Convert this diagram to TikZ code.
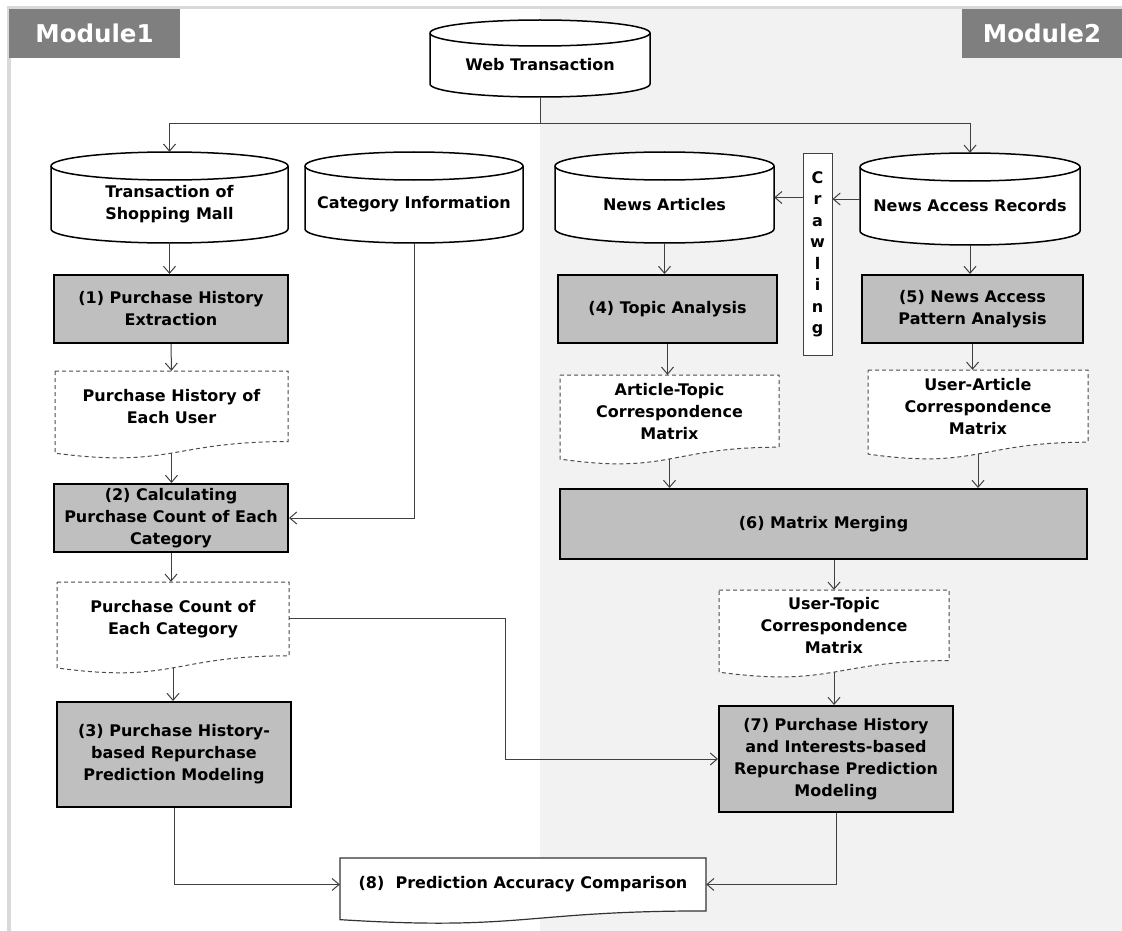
\documentclass[tikz,border=0pt]{standalone}
\usepackage{fontspec}
\setmainfont{DejaVu Sans}
\usetikzlibrary{arrows.meta,calc}
\pgfdeclarelayer{bg}
\pgfdeclarelayer{shp}
\pgfsetlayers{bg,shp,main}
\definecolor{rightbg}{HTML}{F2F2F2}
\definecolor{framegray}{HTML}{D9D9D9}
\definecolor{modgray}{HTML}{7F7F7F}
\definecolor{procgray}{HTML}{BFBFBF}
\definecolor{linegray}{HTML}{404040}
\tikzset{
  txt/.style={font=\bfseries\fontsize{16}{22}\selectfont, align=center, text=black, inner sep=0pt},
  proc/.style={txt, draw=black, line width=2pt, fill=procgray},
  db/.style={inner sep=0pt},
  dbtext/.style={txt},
  dashdoc/.style={draw=black!70, line width=1pt, dash pattern=on 4pt off 3pt},
  soliddoc/.style={draw=black!80, line width=1.2pt},
  crawlbox/.style={txt, font=\bfseries\fontsize{16}{21.5}\selectfont, draw=linegray, line width=1pt, fill=white},
  conn/.style={draw=linegray, line width=1pt, -{Straight Barb[length=7pt,width=12pt]}},
  plain/.style={draw=linegray, line width=1pt},
  modlabel/.style={fill=modgray, text=white, font=\bfseries\fontsize{24.5}{30}\selectfont, inner sep=0pt},
}
% node by corners
\newcommand\boxat[7]{%
  \pgfmathsetmacro\bw{#5-#3}\pgfmathsetmacro\bhh{#6-#4}%
  \pgfmathsetmacro\bx{(#3+#5)/2}\pgfmathsetmacro\by{(#4+#6)/2}%
  \node[#1, minimum width=\bw pt, minimum height=\bhh pt] (#2) at (\bx,\by) {#7};}
% cylinder: name x1 y1 x2 y2 ry text
\newcommand\cylat[7]{%
  \boxat{db}{#1}{#2}{#3}{#4}{#5}{}%
  \pgfmathsetmacro\rx{(#4-#2)/2}%
  \pgfmathsetmacro\cy{(#3+#5)/2+#6/2}%
  \pgfmathsetmacro\cx{(#2+#4)/2}%
  \begin{pgfonlayer}{shp}
  \path[draw=black, line width=1.5pt, fill=white] (#2,#3+#6) -- (#2,#5-#6)
     arc[start angle=180,end angle=360,x radius=\rx pt,y radius=#6pt] -- (#4,#3+#6)
     arc[start angle=0,end angle=180,x radius=\rx pt,y radius=#6pt] -- cycle;
  \draw[line width=1.5pt] (#2,#3+#6) arc[start angle=180,end angle=360,x radius=\rx pt,y radius=#6pt];
  \end{pgfonlayer}
  \node[dbtext] (#1-t) at (\cx,\cy) {#7};}
% document: style name x1 y1 x2 H text
\newcommand\docat[7]{%
  \pgfmathsetmacro\ya{#4+0.802*#6}%
  \pgfmathsetmacro\yb{#4+0.934*#6}%
  \pgfmathsetmacro\yc{#4+1.107*#6}%
  \pgfmathsetmacro\xm{(#3+#5)/2}%
  \pgfmathsetmacro\yw{#4+0.933*#6}%
  \begin{pgfonlayer}{shp}
  \path[fill=white,#1] (#3,#4) -- (#5,#4) -- (#5,\ya) .. controls (\xm,\ya) and (\xm,\yc) .. (#3,\yb) -- cycle;
  \end{pgfonlayer}
  \coordinate (#2-b) at (\xm,\yw);
  \boxat{txt}{#2}{#3}{#4}{#5}{\ya}{#7}}
\begin{document}
\begin{tikzpicture}[x=1pt,y=-1pt]
\useasboundingbox (0,0) rectangle (1122,931);
\begin{pgfonlayer}{bg}
  \fill[white] (0,0) rectangle (1122,931);
  \fill[rightbg] (540,9) rectangle (1122,931);
  \draw[framegray, line width=3.5pt] (9,931) -- (9,7.5) -- (1122,7.5);
\end{pgfonlayer}
\boxat{modlabel}{m1}{9}{9}{180}{58}{Module1}
\boxat{modlabel}{m2}{962}{9}{1122}{58}{Module2}
% cylinders
\cylat{web}{430}{20}{650}{97}{13}{Web Transaction}
\cylat{tsm}{51}{152}{288}{243}{14}{Transaction of\\Shopping Mall}
\cylat{cat}{305}{152}{523}{243}{14}{Category Information}
\cylat{news}{555}{152}{774}{243}{14}{News Articles}
\cylat{nar}{860}{153}{1080}{245}{14}{News Access Records}
\boxat{crawlbox}{crawl}{803}{154}{832}{355}{C\\r\\a\\w\\l\\i\\n\\g}
% process boxes
\boxat{proc}{b1}{54}{275}{288}{343}{(1) Purchase History\\Extraction}
\boxat{proc}{b2}{54}{484}{288}{552}{(2) Calculating\\Purchase Count of Each\\Category}
\boxat{proc}{b3}{57}{702}{291}{807}{(3) Purchase History-\\based Repurchase\\Prediction Modeling}
\boxat{proc}{b4}{558}{275}{777}{343}{(4) Topic Analysis}
\boxat{proc}{b5}{862}{275}{1083}{343}{(5) News Access\\Pattern Analysis}
\boxat{proc}{b6}{560}{489}{1087}{559}{(6) Matrix Merging}
\boxat{proc}{b7}{719}{706}{953}{812}{(7) Purchase History\\and Interests-based\\Repurchase Prediction\\Modeling}
% documents
\docat{dashdoc}{d1}{55}{371}{288}{88}{Purchase History of\\Each User}
\docat{dashdoc}{d2}{57}{582}{289}{92}{Purchase Count of\\Each Category}
\docat{dashdoc}{d3}{560}{375}{779}{90}{Article-Topic\\Correspondence\\Matrix}
\docat{dashdoc}{d4}{868}{370}{1088}{90}{User-Article\\Correspondence\\Matrix}
\docat{dashdoc}{d5}{719}{590}{949}{88}{User-Topic\\Correspondence\\Matrix}
\docat{soliddoc}{d8}{340}{858}{706}{66}{(8)\ \ Prediction Accuracy Comparison}
% connectors
\coordinate (br) at (540,124);
\coordinate (j2) at (505,623);
\draw[plain] (web.south) -- (web.south |- br);
\draw[conn] (br) -| (tsm.north);
\draw[conn] (br) -| (nar.north);
\draw[conn] (nar.west) -- (crawl.east |- nar.west);
\draw[conn] (crawl.west |- news.east) -- (news.east);
\draw[conn] (tsm.south) -- (tsm.south |- b1.north);
\draw[conn] (b1.south) -- (d1.north);
\draw[conn] (d1-b) -- (d1-b |- b2.north);
\draw[conn] (cat.south) |- (b2.east);
\draw[conn] (b2.south) -- (b2.south |- d2.north);
\draw[conn] (d2-b) -- (d2-b |- b3.north);
\draw[conn] (d2.east) -- (d2.east -| j2) |- (b7.west);
\draw[conn] (b3.south) |- (d8.west);
\draw[conn] (b7.south) |- (d8.east);
\draw[conn] (news.south) -- (news.south |- b4.north);
\draw[conn] (b4.south) -- (b4.south |- d3.north);
\draw[conn] (d3-b) -- (d3-b |- b6.north);
\draw[conn] (nar.south) -- (nar.south |- b5.north);
\draw[conn] (b5.south) -- (b5.south |- d4.north);
\draw[conn] (d4-b) -- (d4-b |- b6.north);
\draw[conn] (d5.north |- b6.south) -- (d5.north);
\draw[conn] (d5-b) -- (d5-b |- b7.north);
\end{tikzpicture}
\end{document}
